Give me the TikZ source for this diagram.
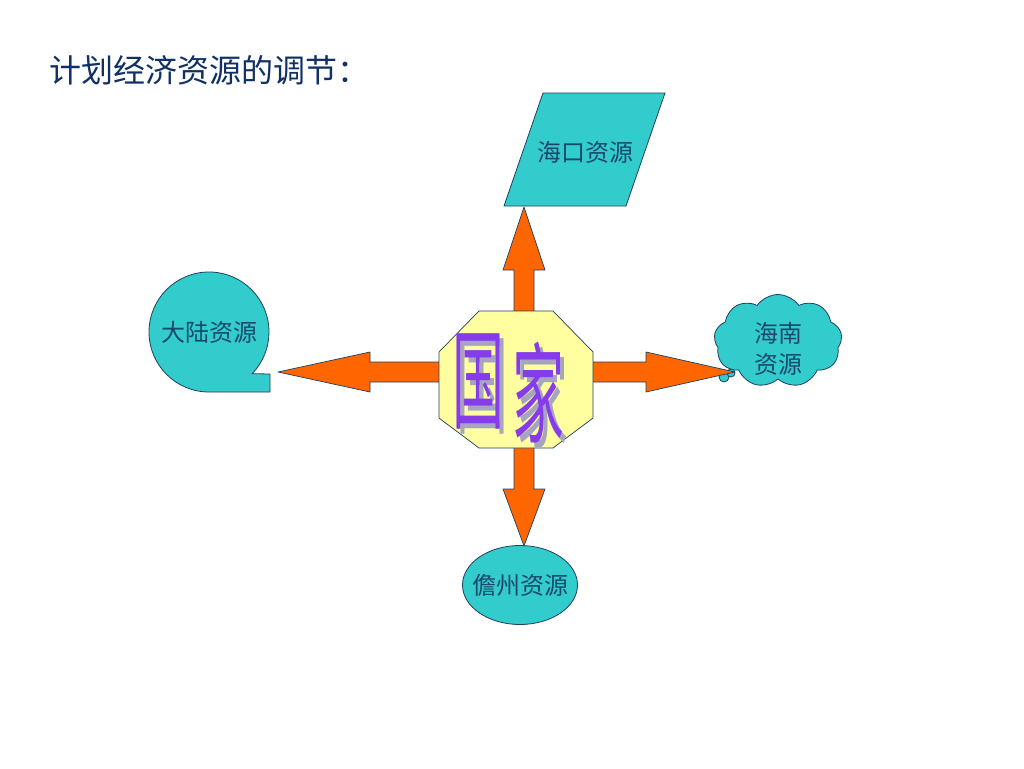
\documentclass[tikz,border=0pt]{standalone}
\usepackage{fontspec}
\newfontfamily\cjk{Noto Sans CJK SC}
\usetikzlibrary{shapes.geometric,shapes.symbols}
\definecolor{bleuvert}{RGB}{51,204,204}
\definecolor{orangefl}{RGB}{255,102,0}
\definecolor{trait}{RGB}{31,64,96}
\definecolor{jaune}{RGB}{255,255,160}
\definecolor{titre}{RGB}{16,48,102}
\definecolor{texte}{RGB}{24,72,110}
\definecolor{mot}{RGB}{135,60,235}
\definecolor{ombre}{RGB}{165,165,190}
\newcommand{\ombrage}[1]{\rlap{\kern4pt\raisebox{-2pt}{\textcolor{ombre}{#1}}}\textcolor{mot}{#1}}
\tikzset{
  forme/.style={draw=trait, fill=bleuvert, line width=0.8},
  fleche/.style={draw=trait, fill=orangefl, line width=0.7, line join=round},
  etiquette/.style={font=\cjk\fontsize{24}{31}\selectfont, text=texte},
  motart/.style={font=\cjk\fontsize{52}{52}\selectfont, yscale=2.1}
}
\begin{document}
\begin{tikzpicture}[x=1pt,y=-1pt]
        \fill[white] (0,0) rectangle (1024,768);

        % titre
        \node[anchor=west, font=\cjk\fontsize{32}{36}\selectfont, text=titre] (titre) at (46,70) {计划经济资源的调节：};

        % les ressources
        \draw[forme] (543,93) -- (665,93) -- (626,206) -- (504,206) -- cycle;
        \node[etiquette] (haikou) at (585,152) {海口资源};
        \coordinate (haikouBas) at (524,207);

        \draw[forme] (270,392) -- (209,392) arc[start angle=90, end angle=404, radius=60] -- (270,374) -- cycle;
        \node[etiquette] (dalu) at (209,332) {大陆资源};
        \coordinate (daluPointe) at (278,372);

        \node[forme, ellipse, minimum width=115, minimum height=79] (danzhou) at (520,585) {};
        \node[etiquette] (danzhouTexte) at (danzhou) {儋州资源};
        \coordinate (danzhouHaut) at (524,546);

        \node[forme, cloud, cloud puffs=9, cloud puff arc=110, minimum width=128, minimum height=93] (hainan) at (778,341) {};
        \node[etiquette, align=center] (hainanTexte) at (778,349) {海南\\资源};
        \draw[forme] (724,377) circle[radius=5];
        \draw[forme] (731,373) circle[radius=4];
        \coordinate (hainanPointe) at (735,372);

        % les fleches depuis le centre
        \coordinate (centre) at (524,372);
        \draw[fleche] (centre) ++(-10,0) -- ++(0,-102) -- ++(-11,0) -- (haikouBas) -- ++(21,63) -- ++(-11,0) -- ++(0,102) -- cycle;
        \draw[fleche] (centre) ++(-10,0) -- ++(0,117) -- ++(-11,0) -- (danzhouHaut) -- ++(21,-57) -- ++(-11,0) -- ++(0,-117) -- cycle;
        \draw[fleche] (centre) ++(0,-10) -- ++(-154,0) -- ++(0,-10) -- (daluPointe) -- ++(92,20) -- ++(0,-10) -- ++(154,0) -- cycle;
        \draw[fleche] (centre) ++(0,-10) -- ++(122,0) -- ++(0,-10) -- (hainanPointe) -- ++(-89,20) -- ++(0,-10) -- ++(-122,0) -- cycle;

        % l'etat (en dernier pour masquer)
        \draw[draw=trait, fill=jaune, line width=0.7] (479,311) -- (553,311) -- (593,352) -- (593,418) -- (553,448) -- (479,448) -- (439,418) -- (439,352) -- cycle;
        \node[motart] (guo) at (478,384) {\ombrage{国}};
        \node[motart] (jia) at (538,395) {\ombrage{家}};
\end{tikzpicture}
\end{document}
